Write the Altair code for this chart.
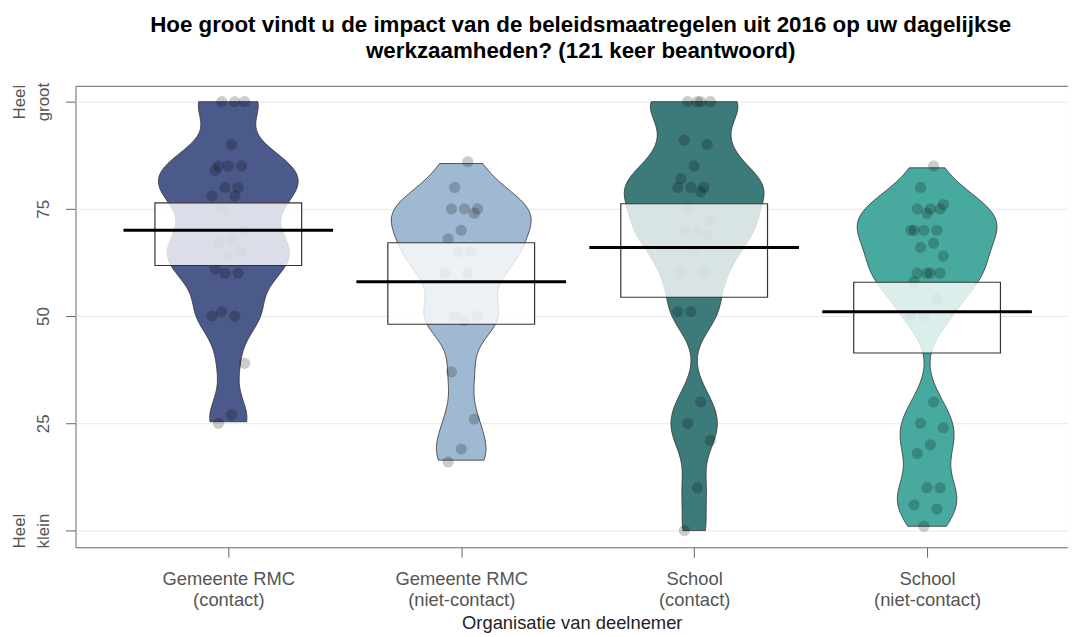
import altair as alt
import pandas as pd

# ---- data ----
groups = ["Gemeente RMC (contact)", "Gemeente RMC (niet-contact)", "School (contact)", "School (niet-contact)"]
label_line1 = ["Gemeente RMC", "Gemeente RMC", "School", "School"]
label_line2 = ["(contact)", "(niet-contact)", "(contact)", "(niet-contact)"]

g1_values = [100, 100, 100, 90, 85, 85, 85, 84, 80, 80, 78, 78, 75, 70, 68, 67, 65, 64,
             61, 60, 60, 50, 50, 51, 39, 27, 25]
g2_values = [86, 80, 75, 75, 75, 74, 70, 68, 65, 65, 60, 60, 50, 50, 49, 37, 26, 19, 16]
g3_values = [100, 100, 100, 100, 91, 90, 85, 82, 80, 80, 80, 79, 75, 72, 70, 70, 69, 65,
             60, 60, 51, 51, 30, 25, 21, 10, 0]
g4_values = [85, 80, 76, 75, 75, 75, 74, 70, 70, 70, 70, 67, 66, 64, 60, 60, 60, 60,
             58, 54, 50, 50, 30, 25, 24, 20, 18, 10, 10, 6, 5, 1]

means = [70, 58, 66, 51]
box_low = [61.8, 48.1, 54.4, 41.4]
box_high = [76.4, 67.1, 76.2, 57.9]
colors = ["#4C598B", "#A0B9D3", "#3D7A7A", "#48AA9E"]

all_values = [g1_values, g2_values, g3_values, g4_values]
pts = pd.DataFrame(
    [{"grp": i + 1, "value": v} for i, vals in enumerate(all_values) for v in vals]
)
summary = pd.DataFrame({
    "grp": [1, 2, 3, 4],
    "mean": means,
    "low": box_low,
    "high": box_high,
})

FONT = "Liberation Sans"
xscale = alt.Scale(domain=[0.344, 4.605], nice=False, zero=False)
yscale = alt.Scale(domain=[-3.9, 103.7], nice=False, zero=False)
cscale = alt.Scale(domain=["1", "2", "3", "4"], range=colors)

x_label_expr = (
    "datum.value == 1 ? ['%s','%s'] : datum.value == 2 ? ['%s','%s'] : "
    "datum.value == 3 ? ['%s','%s'] : datum.value == 4 ? ['%s','%s'] : ''"
    % (label_line1[0], label_line2[0], label_line1[1], label_line2[1],
       label_line1[2], label_line2[2], label_line1[3], label_line2[3])
)
y_label_expr = (
    "datum.value == 0 ? ['Heel','klein'] : datum.value == 100 ? ['Heel','groot'] : ['', datum.label]"
)

x_axis = alt.Axis(
    values=[1, 2, 3, 4], labelExpr=x_label_expr, title="Organisatie van deelnemer",
    grid=False, tickSize=10, tickColor="#666", domain=False,
    labelColor="#555", labelFontSize=18.5, labelFont=FONT, labelPadding=12, labelLineHeight=22,
    titleFont=FONT, titleFontSize=18.5, titleFontWeight="normal", titleColor="#222", titlePadding=4,
)
y_axis = alt.Axis(
    values=[0, 25, 50, 75, 100], labelExpr=y_label_expr, title=None,
    grid=True, gridColor="#e8e8e8", tickSize=10, tickColor="#666", domain=False,
    labelAngle=270, labelAlign="center", labelBaseline="bottom",
    labelColor="#555", labelFontSize=17, labelFont=FONT, labelPadding=37, labelLineHeight=24,
)

violin = alt.Chart(pts).transform_joinaggregate(
    gmin="min(value)", gmax="max(value)", groupby=["grp"]
).transform_density(
    "value", groupby=["grp", "gmin", "gmax"], bandwidth=5, extent=[0, 100], steps=201,
    as_=["value", "density"]
).transform_filter(
    "datum.value >= datum.gmin - 0.01 && datum.value <= datum.gmax + 0.01"
).transform_joinaggregate(
    maxd="max(density)", groupby=["grp"]
).transform_calculate(
    xl="datum.grp - 0.3 * datum.density / datum.maxd",
    xr="datum.grp + 0.3 * datum.density / datum.maxd",
    gname="'' + datum.grp",
).mark_area(orient="horizontal", stroke="#333", strokeWidth=0.8).encode(
    y=alt.Y("value:Q", scale=yscale, axis=y_axis),
    x=alt.X("xl:Q", scale=xscale, axis=x_axis),
    x2="xr:Q",
    color=alt.Color("gname:N", scale=cscale, legend=None),
)

points = alt.Chart(pts).transform_window(
    rn="row_number()", groupby=["grp"]
).transform_calculate(
    jx="datum.grp + (((datum.rn * 7) % 11) - 5) * 0.014"
).mark_circle(size=130, color="black", opacity=0.2).encode(
    x=alt.X("jx:Q", scale=xscale, axis=x_axis),
    y=alt.Y("value:Q", scale=yscale, axis=y_axis),
)

boxes = alt.Chart(summary).transform_calculate(
    bl="datum.grp - 0.315", br="datum.grp + 0.315"
).mark_rect(fill="white", fillOpacity=0.8, stroke="#333", strokeWidth=1.2).encode(
    x=alt.X("bl:Q", scale=xscale, axis=x_axis),
    x2="br:Q",
    y=alt.Y("low:Q", scale=yscale, axis=y_axis),
    y2="high:Q",
)

mean_lines = alt.Chart(summary).transform_calculate(
    ml="datum.grp - 0.45", mr="datum.grp + 0.45"
).mark_rule(color="black", strokeWidth=3).encode(
    x=alt.X("ml:Q", scale=xscale, axis=x_axis),
    x2="mr:Q",
    y=alt.Y("mean:Q", scale=yscale, axis=y_axis),
)

chart = alt.layer(violin, points, boxes, mean_lines).properties(
    width=1000,
    height=465,
    padding={"left": 68, "top": 76, "right": 0, "bottom": 86},
    autosize=alt.AutoSizeParams(type="none"),
    title=alt.TitleParams(
        text=["Hoe groot vindt u de impact van de beleidsmaatregelen uit 2016 op uw dagelijkse",
              "werkzaamheden? (121 keer beantwoord)"],
        font=FONT, fontSize=22.5, fontWeight="bold", color="black",
        anchor="middle", lineHeight=26, offset=20, dx=9,
    ),
).configure_view(stroke="#666", strokeWidth=1)

chart.save("out.html", embed_options={"renderer": "svg", "actions": False})
